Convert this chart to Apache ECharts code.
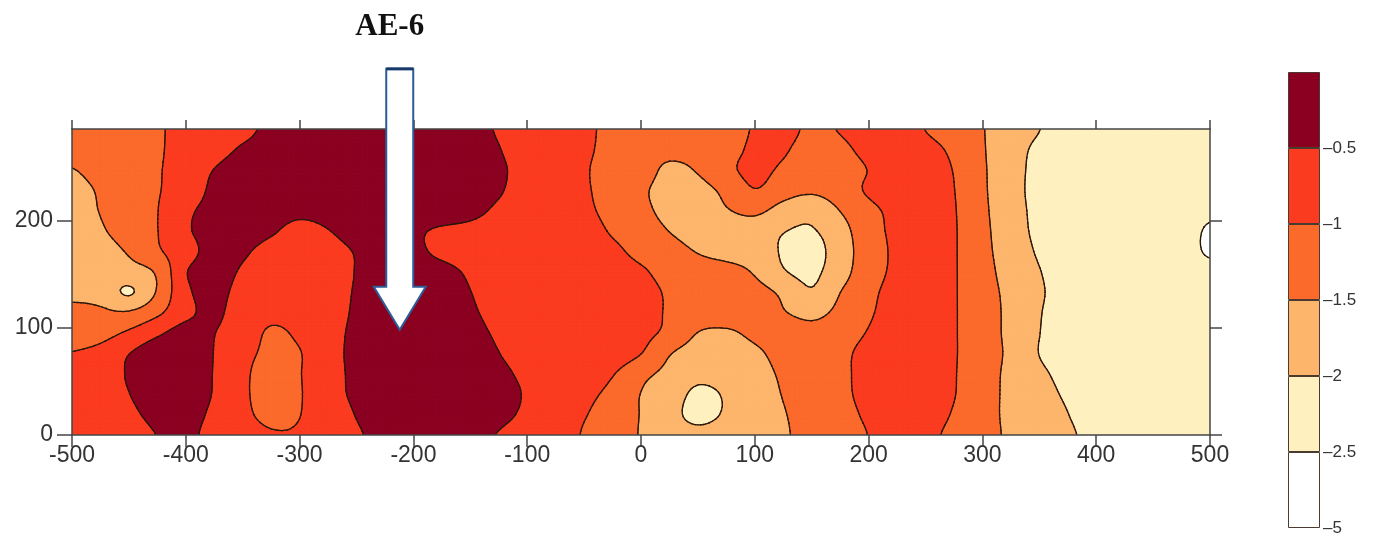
<!DOCTYPE html>
<html>
<head>
<meta charset="utf-8">
<script src="https://cdn.jsdelivr.net/npm/echarts@6/dist/echarts.min.js"></script>
<style>
  html, body { margin: 0; padding: 0; background: #ffffff; }
  #chart { width: 1384px; height: 539px; }
</style>
</head>
<body>
<div id="chart"></div>
<script>
// Grid nodes of the section (horizontal distance, elevation)
const xCoords = [-500,-475,-450,-425,-400,-375,-350,-325,-300,-275,-250,-225,-200,-175,-150,-125,-100,-75,-50,-25,0,25,50,75,100,125,150,175,200,225,250,275,300,325,350,375,400,425,450,475,500];
const yCoords = [0,19,38,57,76,95,114,133,152,171,190,209,228,247,266,285];

// Measured field values, one row per elevation (left to right along xCoords)
const row000 = [-0.75,-0.75,-0.75,-0.49,-0.40,-0.65,-0.75,-0.95,-0.95,-0.75,-0.56,-0.31,-0.15,-0.20,-0.28,-0.53,-0.75,-0.75,-1.04,-1.25,-1.53,-1.75,-1.85,-1.75,-1.70,-1.56,-1.31,-1.24,-0.99,-0.75,-0.87,-1.12,-1.33,-1.58,-1.75,-1.92,-2.17,-2.25,-2.25,-2.25,-2.25];
const row019 = [-0.75,-0.75,-0.61,-0.36,-0.34,-0.59,-0.87,-1.15,-1.01,-0.73,-0.48,-0.20,-0.10,-0.10,-0.20,-0.35,-0.60,-0.75,-0.97,-1.22,-1.52,-1.82,-2.15,-1.94,-1.75,-1.53,-1.30,-1.17,-0.92,-0.75,-0.79,-1.04,-1.34,-1.59,-1.75,-1.99,-2.25,-2.25,-2.25,-2.25,-2.25];
const row038 = [-0.75,-0.75,-0.51,-0.25,-0.28,-0.53,-0.91,-1.20,-1.03,-0.67,-0.42,-0.20,-0.10,-0.10,-0.15,-0.30,-0.55,-0.75,-0.88,-1.13,-1.51,-1.75,-2.10,-1.95,-1.73,-1.48,-1.25,-1.11,-0.86,-0.75,-0.75,-0.98,-1.34,-1.59,-1.82,-2.07,-2.25,-2.25,-2.25,-2.25,-2.25];
const row057 = [-0.80,-0.71,-0.46,-0.20,-0.27,-0.52,-0.90,-1.20,-1.02,-0.66,-0.41,-0.20,-0.10,-0.10,-0.20,-0.37,-0.62,-0.75,-0.75,-0.97,-1.37,-1.62,-1.86,-1.80,-1.68,-1.43,-1.25,-1.10,-0.85,-0.75,-0.75,-0.97,-1.34,-1.59,-1.90,-2.15,-2.25,-2.25,-2.25,-2.25,-2.25];
const row076 = [-0.98,-0.85,-0.51,-0.25,-0.26,-0.51,-0.85,-1.10,-1.02,-0.65,-0.40,-0.20,-0.10,-0.15,-0.24,-0.49,-0.74,-0.75,-0.75,-0.75,-0.99,-1.47,-1.70,-1.75,-1.59,-1.34,-1.25,-1.11,-0.86,-0.75,-0.75,-0.96,-1.33,-1.58,-2.01,-2.25,-2.25,-2.25,-2.25,-2.25,-2.25];
const row095 = [-1.22,-1.17,-0.92,-0.58,-0.33,-0.49,-0.74,-1.06,-0.92,-0.66,-0.41,-0.25,-0.10,-0.20,-0.33,-0.58,-0.75,-0.75,-0.75,-0.75,-0.87,-1.12,-1.51,-1.57,-1.39,-1.25,-1.35,-1.22,-0.97,-0.75,-0.75,-0.96,-1.34,-1.59,-1.99,-2.25,-2.25,-2.25,-2.25,-2.25,-2.25];
const row114 = [-1.37,-1.42,-1.45,-1.10,-0.61,-0.42,-0.73,-0.87,-0.80,-0.69,-0.44,-0.30,-0.20,-0.20,-0.42,-0.67,-0.75,-0.75,-0.75,-0.75,-0.81,-1.06,-1.25,-1.25,-1.25,-1.47,-1.62,-1.38,-1.06,-0.81,-0.75,-0.96,-1.34,-1.59,-1.97,-2.22,-2.25,-2.25,-2.25,-2.25,-2.25];
const row133 = [-1.62,-1.67,-2.05,-1.45,-0.60,-0.38,-0.64,-0.72,-0.72,-0.71,-0.46,-0.30,-0.20,-0.25,-0.49,-0.75,-0.75,-0.75,-0.75,-0.75,-0.82,-1.07,-1.25,-1.25,-1.34,-1.59,-1.95,-1.505,-1.11,-0.86,-0.75,-0.96,-1.35,-1.60,-1.94,-2.19,-2.25,-2.25,-2.25,-2.25,-2.30];
const row152 = [-1.75,-1.75,-1.68,-1.43,-0.53,-0.32,-0.55,-0.70,-0.75,-0.73,-0.48,-0.30,-0.20,-0.33,-0.58,-0.75,-0.75,-0.75,-0.75,-0.75,-0.93,-1.18,-1.25,-1.30,-1.55,-1.96,-2.10,-1.70,-1.20,-0.91,-0.75,-0.96,-1.36,-1.65,-1.98,-2.23,-2.25,-2.25,-2.25,-2.28,-2.35];
const row171 = [-1.80,-1.70,-1.45,-1.07,-0.70,-0.32,-0.43,-0.68,-0.80,-0.71,-0.46,-0.25,-0.37,-0.62,-0.75,-0.75,-0.75,-0.75,-0.75,-0.89,-1.14,-1.28,-1.53,-1.70,-1.79,-2.04,-2.20,-1.72,-1.27,-0.90,-0.75,-0.96,-1.38,-1.70,-2.06,-2.25,-2.25,-2.25,-2.25,-2.30,-2.56];
const row190 = [-1.80,-1.56,-1.28,-1.01,-0.57,-0.32,-0.25,-0.43,-0.68,-0.52,-0.27,-0.20,-0.40,-0.58,-0.65,-0.75,-0.75,-0.75,-0.80,-1.05,-1.26,-1.51,-1.75,-1.75,-1.75,-1.98,-2.04,-1.68,-1.20,-0.89,-0.75,-0.96,-1.39,-1.75,-2.12,-2.25,-2.25,-2.25,-2.25,-2.30,-2.56];
const row209 = [-1.73,-1.48,-1.25,-1.01,-0.60,-0.35,-0.20,-0.25,-0.36,-0.30,-0.20,-0.20,-0.20,-0.20,-0.34,-0.59,-0.70,-0.75,-0.90,-1.15,-1.38,-1.63,-1.70,-1.53,-1.40,-1.68,-1.85,-1.49,-1.125,-0.875,-0.75,-0.97,-1.41,-1.78,-2.14,-2.25,-2.25,-2.25,-2.25,-2.25,-2.40];
const row228 = [-1.70,-1.44,-1.25,-1.03,-0.78,-0.40,-0.25,-0.20,-0.20,-0.20,-0.20,-0.20,-0.20,-0.20,-0.20,-0.45,-0.70,-0.75,-0.94,-1.19,-1.42,-1.67,-1.64,-1.39,-1.02,-1.30,-1.42,-1.25,-0.94,-0.75,-0.75,-0.99,-1.43,-1.80,-2.17,-2.25,-2.25,-2.25,-2.25,-2.25,-2.25];
const row247 = [-1.52,-1.30,-1.20,-1.04,-0.77,-0.49,-0.25,-0.20,-0.20,-0.20,-0.20,-0.20,-0.20,-0.20,-0.20,-0.42,-0.67,-0.75,-0.95,-1.20,-1.28,-1.60,-1.46,-1.12,-0.88,-1.07,-1.20,-1.22,-0.985,-0.75,-0.77,-1.02,-1.44,-1.80,-2.15,-2.25,-2.25,-2.25,-2.25,-2.25,-2.25];
const row266 = [-1.30,-1.25,-1.20,-1.06,-0.80,-0.69,-0.44,-0.30,-0.20,-0.20,-0.20,-0.20,-0.20,-0.20,-0.25,-0.48,-0.73,-0.75,-0.91,-1.16,-1.28,-1.35,-1.30,-1.17,-0.92,-0.95,-1.20,-1.11,-0.86,-0.75,-0.85,-1.10,-1.46,-1.80,-2.10,-2.25,-2.25,-2.25,-2.25,-2.25,-2.25];
const row285 = [-1.25,-1.25,-1.25,-1.07,-0.82,-0.78,-0.63,-0.38,-0.25,-0.20,-0.20,-0.20,-0.20,-0.20,-0.30,-0.55,-0.75,-0.75,-0.89,-1.14,-1.25,-1.25,-1.25,-1.21,-0.96,-0.83,-1.10,-0.97,-0.75,-0.75,-1.01,-1.25,-1.48,-1.74,-1.99,-2.24,-2.25,-2.25,-2.25,-2.25,-2.25];
const rows = [row000,row019,row038,row057,row076,row095,row114,row133,row152,row171,row190,row209,row228,row247,row266,row285];

// Contour levels and the fill of each band between them (lowest band first)
const levels = [-2.5, -2, -1.5, -1, -0.5];
const bandColors = ['#ffffff', '#fff0bf', '#fdb56c', '#fb6a2b', '#fb3b1f', '#8b0020'];
const scaleLabels = ['\u20135', '\u20132.5', '\u20132', '\u20131.5', '\u20131', '\u20130.5', ''];

// Axis ticks
const xTickValues = [-500,-400,-300,-200,-100,0,100,200,300,400,500];
const yTickValues = [0, 100, 200];

// Borehole marker
const markerName = 'AE-6';
const markerX = -212;
const markerTipY = 98;
const markerTopY = 341;

const LINE_COLOR = '#2a170c';
const FRAME_COLOR = '#454545';
const SUB = 5; // sub-steps per grid cell when tracing bands

// ---- surface sampling (Catmull-Rom across grid nodes) ----
const nX = xCoords.length, nY = yCoords.length;
function nodeValue(i, j) {
  i = Math.max(0, Math.min(nX - 1, i));
  j = Math.max(0, Math.min(nY - 1, j));
  return rows[j][i];
}
function cubic(p0, p1, p2, p3, t) {
  return p1 + 0.5 * t * (p2 - p0 + t * (2 * p0 - 5 * p1 + 4 * p2 - p3 + t * (3 * (p1 - p2) + p3 - p0)));
}
function sample(i, j, u, w) {
  const col = [];
  for (let r = -1; r <= 2; r++) {
    col.push(cubic(nodeValue(i - 1, j + r), nodeValue(i, j + r), nodeValue(i + 1, j + r), nodeValue(i + 2, j + r), u));
  }
  return cubic(col[0], col[1], col[2], col[3], w);
}

// ---- contouring helpers ----
function clipByLevel(poly, level, keepAbove) {
  const out = [];
  for (let k = 0; k < poly.length; k++) {
    const a = poly[k], b = poly[(k + 1) % poly.length];
    const ina = keepAbove ? a[2] >= level : a[2] <= level;
    const inb = keepAbove ? b[2] >= level : b[2] <= level;
    if (ina) out.push(a);
    if (ina !== inb) {
      const t = (level - a[2]) / (b[2] - a[2]);
      out.push([a[0] + t * (b[0] - a[0]), a[1] + t * (b[1] - a[1]), level]);
    }
  }
  return out;
}

function bandOf(v) {
  let k = 0;
  while (k < levels.length && v >= levels[k]) k++;
  return k;
}

// Split one grid cell into sub-cells; each gives its corners and centre as [px, py, value]
function subCells(api, i, j) {
  const p00 = api.coord([xCoords[i], yCoords[j]]);
  const p11 = api.coord([xCoords[i + 1], yCoords[j + 1]]);
  const node = (u, w) => [
    p00[0] + u * (p11[0] - p00[0]),
    p00[1] + w * (p11[1] - p00[1]),
    sample(i, j, u, w)
  ];
  const grid = [];
  for (let b = 0; b <= SUB; b++) {
    const line = [];
    for (let a = 0; a <= SUB; a++) line.push(node(a / SUB, b / SUB));
    grid.push(line);
  }
  const out = [];
  for (let b = 0; b < SUB; b++) {
    for (let a = 0; a < SUB; a++) {
      out.push([grid[b][a], grid[b][a + 1], grid[b + 1][a + 1], grid[b + 1][a],
        node((a + 0.5) / SUB, (b + 0.5) / SUB)]);
    }
  }
  return out;
}

function splitTris(sc) {
  const m = sc[4];
  return [[sc[0], sc[1], m], [sc[1], sc[2], m], [sc[2], sc[3], m], [sc[3], sc[0], m]];
}

function renderFill(params, api) {
  const i = api.value(2), j = api.value(3);
  const children = [];
  subCells(api, i, j).forEach(sc => {
    const bands = sc.map(p => bandOf(p[2]));
    const bMin = Math.min.apply(null, bands), bMax = Math.max.apply(null, bands);
    if (bMin === bMax) {
      children.push({
        type: 'polygon', silent: true,
        shape: { points: sc.slice(0, 4).map(p => [p[0], p[1]]) },
        style: { fill: bandColors[bMin], stroke: bandColors[bMin], lineWidth: 1 }
      });
      return;
    }
    splitTris(sc).forEach(tri => {
      for (let k = bMin; k <= bMax; k++) {
        let poly = tri;
        if (k > 0) poly = clipByLevel(poly, levels[k - 1], true);
        if (k < levels.length && poly.length) poly = clipByLevel(poly, levels[k], false);
        if (poly.length >= 3) {
          children.push({
            type: 'polygon', silent: true,
            shape: { points: poly.map(p => [p[0], p[1]]) },
            style: { fill: bandColors[k], stroke: bandColors[k], lineWidth: 1 }
          });
        }
      }
    });
  });
  return { type: 'group', children };
}

function renderLines(params, api) {
  const i = api.value(2), j = api.value(3);
  const children = [];
  subCells(api, i, j).forEach(sc => {
    const bands = sc.map(p => bandOf(p[2]));
    if (Math.min.apply(null, bands) === Math.max.apply(null, bands)) return;
    splitTris(sc).forEach(tri => {
      levels.forEach(L => {
        const pts = [];
        for (let k = 0; k < 3; k++) {
          const a = tri[k], b = tri[(k + 1) % 3];
          if ((a[2] >= L) !== (b[2] >= L)) {
            const t = (L - a[2]) / (b[2] - a[2]);
            pts.push([a[0] + t * (b[0] - a[0]), a[1] + t * (b[1] - a[1])]);
          }
        }
        if (pts.length === 2) {
          children.push({
            type: 'line', silent: true,
            shape: { x1: pts[0][0], y1: pts[0][1], x2: pts[1][0], y2: pts[1][1] },
            style: { stroke: LINE_COLOR, lineWidth: 1.3, lineCap: 'round' }
          });
        }
      });
    });
  });
  return { type: 'group', children };
}

function renderMarker(params, api) {
  const tip = api.coord([markerX, markerTipY]);
  const top = api.coord([markerX, markerTopY]);
  const shaft = 13.5, head = 26, headLen = 43;
  const cx = tip[0];
  const neck = tip[1] - headLen;
  return {
    type: 'group',
    children: [
      {
        type: 'polygon',
        shape: { points: [
          [cx - shaft, top[1]], [cx + shaft, top[1]], [cx + shaft, neck],
          [cx + head, neck], [cx, tip[1]], [cx - head, neck], [cx - shaft, neck]
        ] },
        style: { fill: '#ffffff', stroke: '#2c5d99', lineWidth: 2, lineJoin: 'miter' }
      },
      {
        type: 'line',
        shape: { x1: cx - shaft, y1: top[1], x2: cx + shaft, y2: top[1] },
        style: { stroke: '#173a6b', lineWidth: 3 }
      },
      {
        type: 'text',
        style: {
          text: markerName, x: cx - 10, y: top[1] - 42,
          align: 'center', verticalAlign: 'middle',
          fontFamily: '"Liberation Serif", "DejaVu Serif", serif',
          fontWeight: 'bold', fontSize: 31, fill: '#111111'
        }
      }
    ]
  };
}

// one item per grid cell
const cells = [];
for (let j = 0; j < yCoords.length - 1; j++) {
  for (let i = 0; i < xCoords.length - 1; i++) {
    cells.push([xCoords[i], yCoords[j], i, j]);
  }
}

const frameLine = { show: true, onZero: false, lineStyle: { color: FRAME_COLOR, width: 1.5 } };
const frameTick = { show: true, inside: false, length: 12, lineStyle: { color: FRAME_COLOR, width: 1.5 } };
const tickFont = { fontFamily: '"Liberation Sans", Arial, sans-serif', fontSize: 23, color: '#333333' };

const option = {
  animation: false,
  backgroundColor: '#ffffff',
  grid: [
    { left: 72, right: 174, top: 129, bottom: 104, containLabel: false },
    { left: 1288, top: 72, width: 32, height: 456, containLabel: false }
  ],
  xAxis: [
    {
      gridIndex: 0, type: 'value', min: -500, max: 500, interval: 100, position: 'bottom', z: 10,
      axisLine: frameLine,
      axisTick: Object.assign({}, frameTick, { customValues: xTickValues }),
      axisLabel: Object.assign({ margin: 9, customValues: xTickValues }, tickFont),
      splitLine: { show: false }
    },
    {
      gridIndex: 0, type: 'value', min: -500, max: 500, interval: 100, position: 'top', z: 10,
      axisLine: frameLine,
      axisTick: Object.assign({}, frameTick, { length: 9, customValues: xTickValues }),
      axisLabel: { show: false },
      splitLine: { show: false }
    },
    { gridIndex: 1, type: 'category', data: ['scale'], show: false }
  ],
  yAxis: [
    {
      gridIndex: 0, type: 'value', min: 0, max: 285, interval: 100, position: 'left', z: 10,
      axisLine: frameLine,
      axisTick: Object.assign({}, frameTick, { length: 15, customValues: yTickValues }),
      axisLabel: Object.assign({ margin: 19, customValues: yTickValues }, tickFont),
      splitLine: { show: false }
    },
    {
      gridIndex: 0, type: 'value', min: 0, max: 285, interval: 100, position: 'right', z: 10,
      axisLine: frameLine,
      axisTick: Object.assign({}, frameTick, { length: 12, customValues: yTickValues }),
      axisLabel: { show: false },
      splitLine: { show: false }
    },
    {
      gridIndex: 1, type: 'value', min: 0, max: 6, interval: 1, position: 'right',
      axisLine: { show: false }, axisTick: { show: false }, splitLine: { show: false },
      axisLabel: {
        formatter: v => scaleLabels[v] || '',
        fontFamily: '"Liberation Sans", Arial, sans-serif', fontSize: 17, color: '#333333', margin: 3
      }
    }
  ],
  series: [
    {
      type: 'custom', name: 'fill', xAxisIndex: 0, yAxisIndex: 0,
      data: cells, encode: { x: 0, y: 1 }, renderItem: renderFill, clip: true, z: 2, silent: true
    },
    {
      type: 'custom', name: 'contours', xAxisIndex: 0, yAxisIndex: 0,
      data: cells, encode: { x: 0, y: 1 }, renderItem: renderLines, clip: true, z: 3, silent: true
    },
    {
      type: 'custom', name: 'marker', xAxisIndex: 0, yAxisIndex: 0,
      data: [[markerX, markerTipY]], encode: { x: 0, y: 1 }, renderItem: renderMarker,
      clip: false, z: 20, silent: true
    }
  ].concat(bandColors.map((color, k) => ({
    type: 'bar', name: 'band' + k, xAxisIndex: 2, yAxisIndex: 2, stack: 'scale',
    data: [1], barWidth: '100%', silent: true,
    itemStyle: { color: color, borderColor: '#4a3a30', borderWidth: 1 }
  })))
};

const chart = echarts.init(document.getElementById('chart'), null, { renderer: 'canvas' });
chart.setOption(option);
</script>
</body>
</html>
